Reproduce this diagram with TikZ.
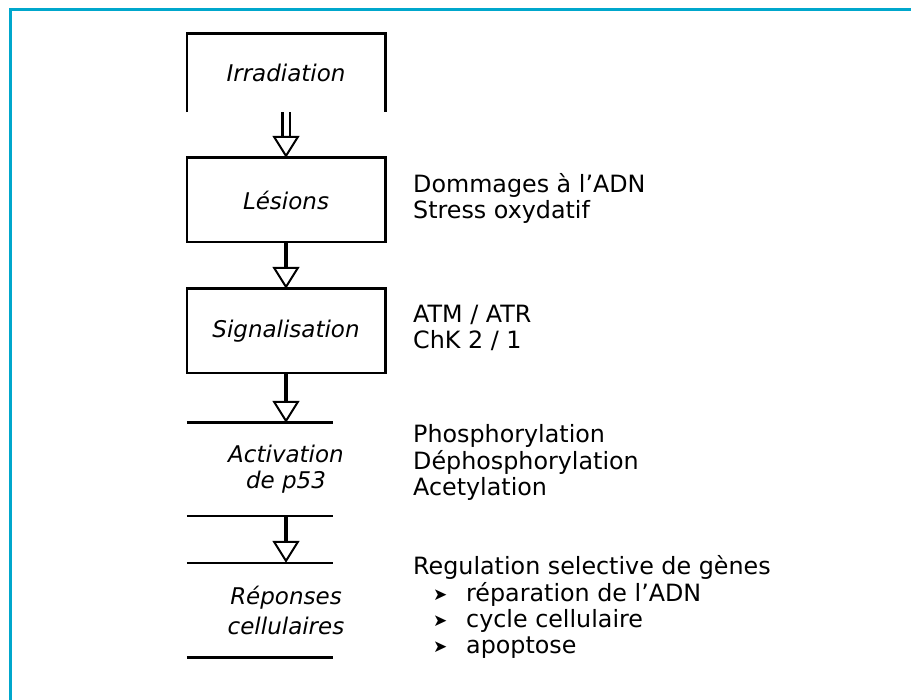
\documentclass[tikz,border=0pt]{standalone}
\usepackage{fontspec}
\setmainfont{DejaVu Sans}
\usetikzlibrary{arrows.meta}
\definecolor{framecyan}{RGB}{0,167,204}
\newcommand\mybul{\makebox[53pt][l]{\hspace{20pt}\raisebox{1pt}{\fontsize{17}{17}\selectfont ➤}}}
\begin{document}
\begin{tikzpicture}[x=1pt,y=-1pt,
  box/.style={draw=none, minimum width=198pt, inner sep=0pt, align=center, font=\fontsize{23}{26}\selectfont\itshape},
  edge/.style={line width=2.6pt},
  flow/.style={line width=3.2pt, -{Triangle[open, width=27pt, length=22pt, line width=2pt]}},
  side/.style={anchor=base west, inner sep=0pt, font=\fontsize{23.8}{26}\selectfont}]
\useasboundingbox (0,0) rectangle (911,700);
\draw[framecyan, line width=3pt] (10,702) -- (10,10) -- (913,10);

\node[box, minimum height=78pt] (irr) at (286,73) {Irradiation};
\node[box, minimum height=84pt] (les) at (286,200) {Lésions};
\node[box, minimum height=84pt] (sig) at (286,331) {Signalisation};
\node[box, minimum height=93pt] (act) at (286,469.5) {Activation\\de p53};
\node[box, minimum height=94pt] (rep) at (286,610) {Réponses\\[4pt]cellulaires};

\draw[edge] (irr.south west) |- (irr.north east) -- (irr.south east);
\draw[edge] (les.south west) rectangle (les.north east);
\draw[edge] (sig.south west) rectangle (sig.north east);
\draw[edge] (act.north west) -- ++(146,0);
\draw[edge] (act.south west) -- ++(146,0);
\draw[edge] (rep.north west) -- ++(146,0);
\draw[edge] (rep.south west) -- ++(146,0);

\draw[flow, double, double distance=5pt, line width=2.5pt] (irr.south) -- (les.north);
\draw[flow] (les.south) -- (sig.north);
\draw[flow] (sig.south) -- (act.north);
\draw[flow] (act.south) -- (rep.north);

\node[side] (t1) at (413,193) {\begin{tabular}[t]{@{}l@{}}Dommages à l'ADN\\Stress oxydatif\end{tabular}};
\node[side] (t2) at (413,323) {\begin{tabular}[t]{@{}l@{}}ATM / ATR\\ChK 2 / 1\end{tabular}};
\node[side] (t3) at (413,443) {\begin{tabular}[t]{@{}l@{}}Phosphorylation\\Déphosphorylation\\Acetylation\end{tabular}};
\node[side] (t4) at (413,575) {\begin{tabular}[t]{@{}l@{}}Regulation selective de gènes\\\mybul réparation de l'ADN\\\mybul cycle cellulaire\\\mybul apoptose\end{tabular}};
\end{tikzpicture}
\end{document}
